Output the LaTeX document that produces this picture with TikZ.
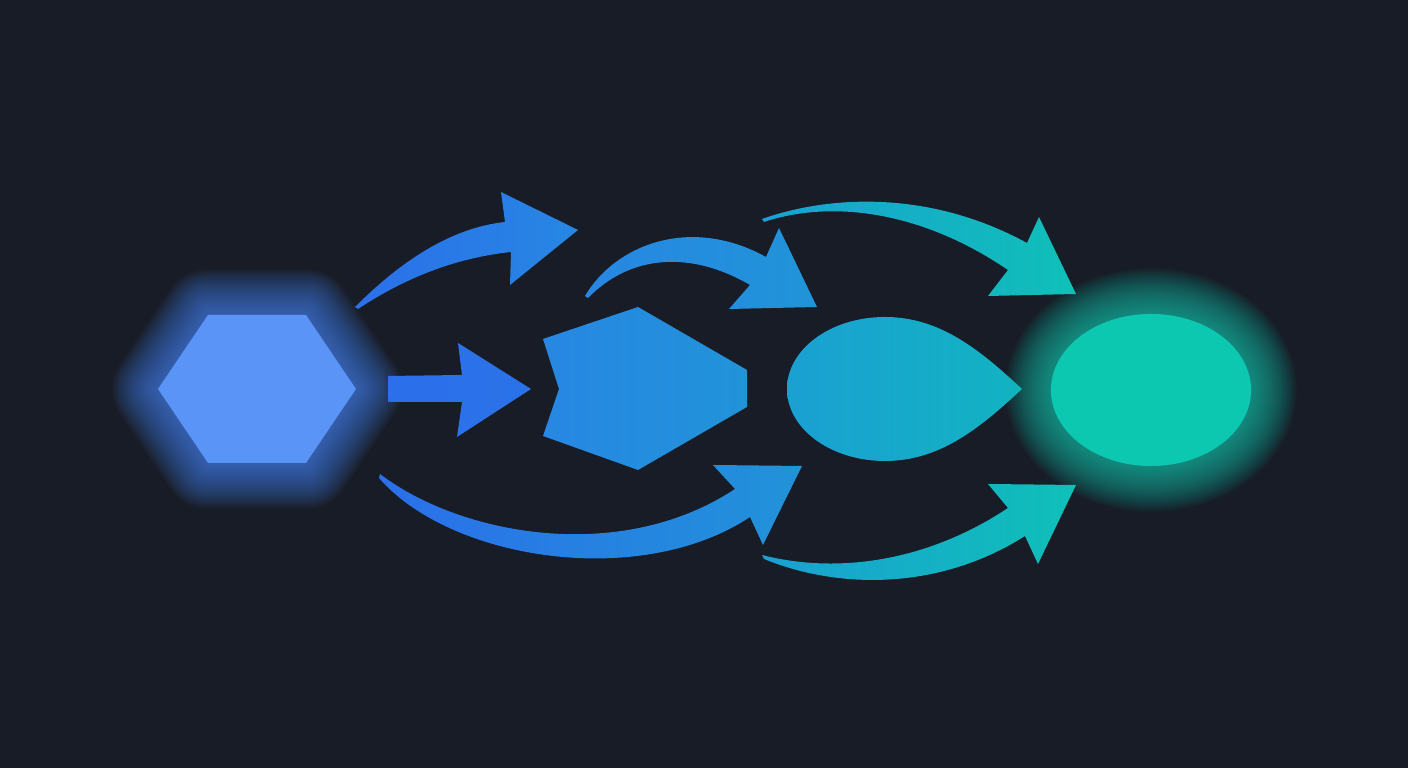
\documentclass[tikz,border=0pt]{standalone}
\usepackage{xcolor}
\usetikzlibrary{shapes.geometric}

\definecolor{bgnavy}{HTML}{181C26}
\definecolor{hexblue}{HTML}{5A94F6}
\definecolor{glowblue}{HTML}{4A86F4}
\definecolor{glowteal}{HTML}{12C4AE}
\definecolor{endteal}{HTML}{0DC8B1}
\definecolor{blueA}{HTML}{2B6FEA}
\definecolor{blueB}{HTML}{2787E3}
\definecolor{blueC}{HTML}{2193D9}
\definecolor{blueD}{HTML}{1AA0D2}
\definecolor{tealA}{HTML}{12B3C2}
\definecolor{tealB}{HTML}{0FC0B8}

\tikzset{
  glowline/.style={line join=round, opacity=0.045},
}

\begin{document}
\begin{tikzpicture}[x=0.01cm, y=-0.01cm]
      % background, fixes the page size
      \fill[bgnavy] (0,0) rectangle (1408,768);

      % start hexagon with its glow
      \foreach \w in {26,25,...,1}
        \draw[glowline, glowblue, line width=\w pt] (158,389) -- (208,315) -- (306,315) -- (356,389) -- (306,463) -- (208,463) -- cycle;
      \fill[hexblue] (158,389) -- (208,315) -- (306,315) -- (356,389) -- (306,463) -- (208,463) -- cycle;
      \coordinate (hex) at (256,389);

      % notched pentagon
      \shade[left color=blueB, right color=blueC] (543,339) -- (638,307) -- (747,370) -- (747,407) -- (638,470) -- (543,436) -- (559,389) -- cycle;
      \coordinate (pent) at (645,389);

      % teardrop
      \shade[left color=blueD, right color=tealA] (1022,389) .. controls (980,350) and (940,317) .. (885,317)
        .. controls (831,317) and (787,349) .. (787,389)
        .. controls (787,429) and (831,461) .. (885,461)
        .. controls (940,461) and (980,428) .. (1022,389) -- cycle;
      \coordinate (drop) at (885,389);

      % end ellipse with its glow
      \foreach \w in {26,25,...,1}
        \draw[glowline, glowteal, line width=\w pt] (1151,390) ellipse [x radius=1cm, y radius=0.76cm];
      \node[ellipse, fill=endteal, inner sep=0pt, minimum width=2cm, minimum height=1.52cm] (oval) at (1151,390) {};

      % arrow tails and tips
      \coordinate (t1) at (355,307);
      \coordinate (h1) at (578,230);
      \coordinate (t2) at (585,296);
      \coordinate (h2) at (817,307);
      \coordinate (t3) at (762,219);
      \coordinate (h3) at (1076,294);
      \coordinate (t4) at (380,474);
      \coordinate (h4) at (802,466);
      \coordinate (t5) at (762,555);
      \coordinate (h5) at (1076,485);
      \coordinate (t0) at (388,389);
      \coordinate (h0) at (531,389);

      % straight arrow
      \shade[left color=blueA, right color=blueA!85!blueB] (388,376) -- (462,375) -- (458,343) -- (h0) -- (457,437) -- (462,402) -- (388,402) -- cycle;

      % upper arrows
      \shade[left color=blueA, right color=blueB] (t1) .. controls (400,262) and (450,228) .. (505,222)
        -- (501,192) -- (h1) -- (510,285) -- (511,252)
        .. controls (455,258) and (405,278) .. (358,309) -- cycle;
      \shade[left color=blueB, right color=blueC!90!blueD] (t2) .. controls (615,245) and (690,215) .. (766,257)
        -- (779,228) -- (h2) -- (729,309) -- (750,285)
        .. controls (690,250) and (630,255) .. (588,298) -- cycle;
      \shade[left color=blueD, right color=tealB] (t3) .. controls (830,195) and (930,190) .. (1027,243)
        -- (1039,217) -- (h3) -- (988,296) -- (1008,270)
        .. controls (920,210) and (830,200) .. (764,222) -- cycle;

      % lower arrows
      \shade[left color=blueA, right color=blueC] (t4) .. controls (460,535) and (620,565) .. (735,489)
        -- (713,465) -- (h4) -- (763,545) -- (750,517)
        .. controls (640,590) and (450,560) .. (379,478) -- cycle;
      \shade[left color=blueD, right color=tealB] (t5) .. controls (840,575) and (930,560) .. (1008,508)
        -- (988,484) -- (h5) -- (1038,564) -- (1025,536)
        .. controls (940,590) and (840,590) .. (764,559) -- cycle;
    \end{tikzpicture}
\end{document}
